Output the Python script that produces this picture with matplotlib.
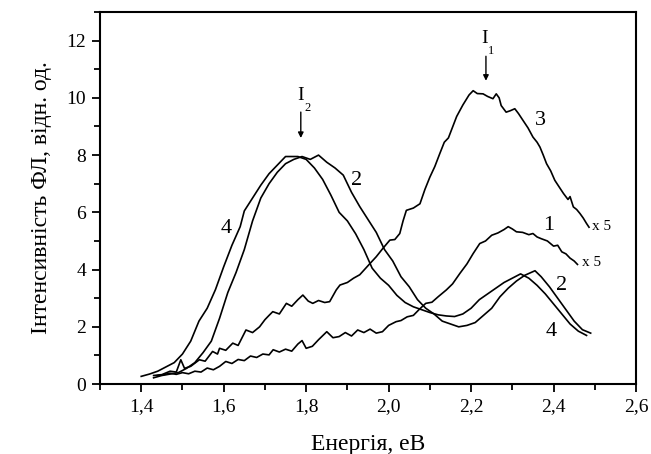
import matplotlib
matplotlib.use("Agg")
import matplotlib.pyplot as plt
from matplotlib.ticker import MultipleLocator, FuncFormatter

plt.rcParams['font.family'] = ['Liberation Serif', 'DejaVu Serif']

# Curve 3 (x5)
e3 = [1.43,1.45,1.47,1.485,1.496,1.505,1.52,1.541,1.555,1.573,1.585,1.59,1.605,1.622,1.635,1.654,1.67,1.687,1.70,1.71,1.719,1.735,1.752,1.765,1.78,1.792,1.805,1.816,1.83,1.845,1.857,1.873,1.882,1.90,1.915,1.93,1.954,1.97,1.986,2.003,2.015,2.027,2.035,2.043,2.06,2.076,2.088,2.10,2.112,2.124,2.135,2.145,2.165,2.18,2.195,2.205,2.215,2.229,2.24,2.253,2.261,2.268,2.273,2.285,2.295,2.306,2.315,2.326,2.338,2.35,2.36,2.367,2.375,2.383,2.393,2.403,2.413,2.424,2.435,2.44,2.448,2.456,2.464,2.472,2.48,2.486]
i3 = [0.30,0.33,0.45,0.42,0.85,0.55,0.62,0.85,0.80,1.14,1.05,1.25,1.18,1.43,1.35,1.89,1.80,2.0,2.25,2.40,2.53,2.45,2.82,2.72,2.95,3.11,2.90,2.82,2.92,2.85,2.88,3.29,3.46,3.55,3.70,3.82,4.2,4.45,4.74,5.03,5.05,5.26,5.70,6.07,6.15,6.3,6.8,7.23,7.6,8.05,8.45,8.60,9.35,9.75,10.1,10.25,10.15,10.14,10.05,9.97,10.14,10.0,9.73,9.5,9.55,9.62,9.45,9.21,8.95,8.63,8.45,8.28,8.0,7.7,7.45,7.12,6.9,6.66,6.45,6.55,6.19,6.1,5.96,5.8,5.61,5.48]

# Curve 1 (x5)
e1 = [1.44,1.455,1.47,1.485,1.50,1.515,1.53,1.545,1.56,1.575,1.59,1.605,1.62,1.635,1.65,1.665,1.68,1.695,1.71,1.72,1.735,1.75,1.765,1.78,1.79,1.80,1.815,1.83,1.85,1.865,1.88,1.895,1.91,1.925,1.94,1.955,1.97,1.985,2.00,2.018,2.03,2.045,2.06,2.075,2.09,2.105,2.12,2.14,2.155,2.173,2.19,2.205,2.221,2.235,2.25,2.265,2.28,2.29,2.30,2.31,2.325,2.34,2.35,2.36,2.37,2.385,2.40,2.41,2.42,2.43,2.44,2.45,2.458]
i1 = [0.30,0.33,0.38,0.34,0.40,0.36,0.45,0.42,0.56,0.50,0.62,0.79,0.72,0.86,0.82,0.98,0.93,1.05,1.02,1.20,1.12,1.22,1.15,1.40,1.52,1.25,1.32,1.55,1.83,1.62,1.66,1.80,1.68,1.89,1.80,1.92,1.78,1.83,2.05,2.18,2.22,2.35,2.40,2.62,2.82,2.86,3.05,3.29,3.50,3.87,4.20,4.56,4.91,5.0,5.2,5.28,5.40,5.50,5.42,5.32,5.30,5.22,5.26,5.14,5.08,5.0,4.82,4.85,4.62,4.55,4.40,4.30,4.18]

# Curve 4
e4 = [1.40,1.42,1.44,1.46,1.48,1.50,1.52,1.54,1.56,1.58,1.60,1.62,1.64,1.65,1.67,1.69,1.71,1.73,1.75,1.76,1.78,1.80,1.82,1.84,1.86,1.88,1.90,1.92,1.94,1.96,1.98,2.00,2.02,2.04,2.06,2.08,2.10,2.12,2.14,2.16,2.18,2.20,2.22,2.24,2.26,2.28,2.30,2.32,2.34,2.36,2.38,2.40,2.42,2.44,2.46,2.48]
i4 = [0.27,0.35,0.45,0.6,0.75,1.05,1.5,2.2,2.65,3.3,4.1,4.85,5.5,6.05,6.5,6.95,7.35,7.65,7.95,7.95,7.95,7.85,7.55,7.15,6.6,6.0,5.7,5.25,4.7,4.05,3.7,3.45,3.1,2.85,2.7,2.6,2.5,2.42,2.38,2.36,2.45,2.65,2.95,3.15,3.35,3.55,3.7,3.85,3.7,3.45,3.15,2.8,2.45,2.1,1.85,1.7]

# Curve 2
e2 = [1.43,1.45,1.47,1.49,1.51,1.53,1.55,1.57,1.59,1.61,1.63,1.65,1.67,1.69,1.71,1.73,1.75,1.77,1.79,1.81,1.83,1.85,1.87,1.89,1.91,1.93,1.95,1.97,1.99,2.01,2.03,2.05,2.07,2.09,2.11,2.13,2.15,2.17,2.19,2.21,2.23,2.25,2.27,2.29,2.31,2.33,2.355,2.37,2.39,2.41,2.43,2.45,2.47,2.49]
i2 = [0.22,0.3,0.35,0.4,0.55,0.75,1.1,1.5,2.3,3.2,3.9,4.7,5.7,6.5,7.0,7.4,7.7,7.85,7.95,7.85,8.0,7.75,7.55,7.3,6.7,6.2,5.75,5.3,4.7,4.3,3.75,3.4,2.95,2.65,2.45,2.2,2.1,2.0,2.05,2.15,2.4,2.65,3.05,3.35,3.6,3.8,3.96,3.75,3.4,3.0,2.6,2.2,1.9,1.78]

xticks = [1.4, 1.6, 1.8, 2.0, 2.2, 2.4, 2.6]
yticks = [0, 2, 4, 6, 8, 10, 12]

fig = plt.figure(figsize=(6.51, 4.54), dpi=100)
ax = fig.add_axes([0.1536, 0.154, 0.8234, 0.8196])

for e, i in [(e3, i3), (e1, i1), (e4, i4), (e2, i2)]:
    ax.plot(e, i, color='black', lw=1.2)

ax.set_xlim(1.3, 2.6)
ax.set_ylim(0, 13)
ax.set_xticks(xticks)
ax.set_yticks(yticks)
ax.xaxis.set_minor_locator(MultipleLocator(0.1))
ax.yaxis.set_minor_locator(MultipleLocator(1))
fmt = FuncFormatter(lambda v, p: (f"{v:.1f}").replace('.', ','))
ax.xaxis.set_major_formatter(fmt)
ax.tick_params(axis='both', which='major', direction='out', length=6, width=1.3, labelsize=14, pad=4)
ax.tick_params(axis='both', which='minor', direction='out', length=4, width=1.3)
ax.tick_params(top=False, right=False)
for s in ax.spines.values():
    s.set_linewidth(1.5)

ax.set_xlabel('Енергія, еВ', fontsize=17, labelpad=14)
ax.set_ylabel('Інтенсивність ФЛ, відн. од.', fontsize=17, labelpad=10)

# curve number labels
ax.text(1.606, 5.44, '4', fontsize=16, ha='center', va='center')
ax.text(1.923, 7.12, '2', fontsize=16, ha='center', va='center')
ax.text(2.367, 9.21, '3', fontsize=16, ha='center', va='center')
ax.text(2.387, 5.55, '1', fontsize=16, ha='center', va='center')
ax.text(2.42, 3.43, '2', fontsize=16, ha='center', va='center')
ax.text(2.395, 1.83, '4', fontsize=16, ha='center', va='center')
ax.text(2.517, 5.52, 'x 5', fontsize=11, ha='center', va='center')
ax.text(2.492, 4.24, 'x 5', fontsize=11, ha='center', va='center')

# peak arrows
ax.annotate('', xy=(2.236, 10.5), xytext=(2.236, 11.55),
            arrowprops=dict(arrowstyle='-|>', color='black', lw=1.0, mutation_scale=8))
ax.text(2.232, 12.08, 'I', fontsize=14, ha='center', va='center')
ax.text(2.248, 11.65, '1', fontsize=9, ha='center', va='center')
ax.annotate('', xy=(1.787, 8.5), xytext=(1.787, 9.6),
            arrowprops=dict(arrowstyle='-|>', color='black', lw=1.0, mutation_scale=8))
ax.text(1.787, 10.08, 'I', fontsize=14, ha='center', va='center')
ax.text(1.804, 9.63, '2', fontsize=9, ha='center', va='center')

fig.savefig('out.png', dpi=100)
